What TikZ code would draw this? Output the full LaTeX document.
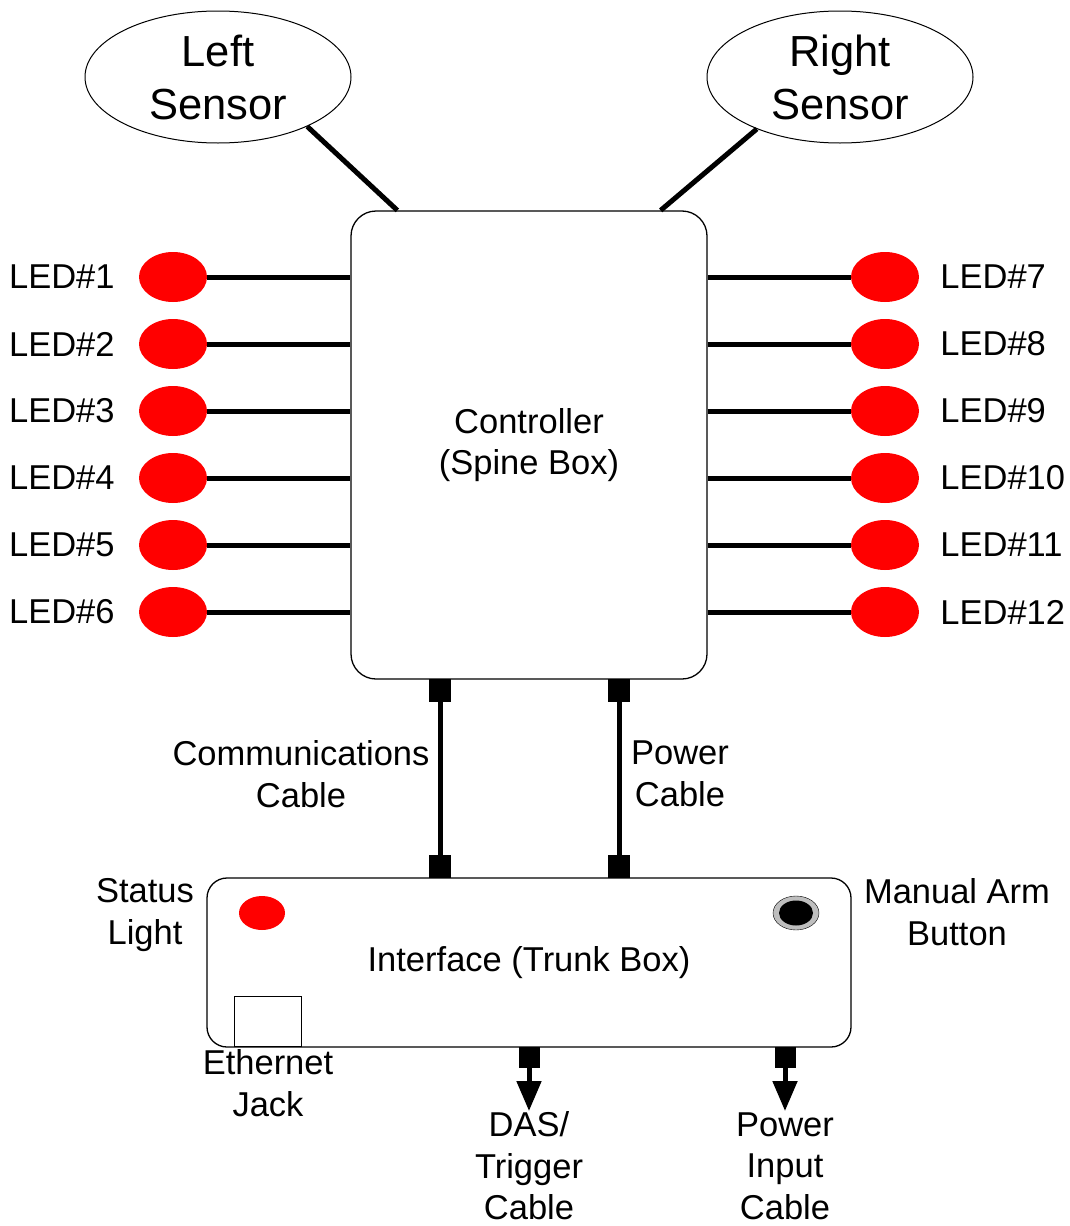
\documentclass[tikz,border=0pt]{standalone}
\usepackage{fontspec}
\setmainfont{Liberation Sans}
\usetikzlibrary{arrows.meta, positioning, shapes.geometric}
\definecolor{cLed}{RGB}{255,0,0}
\definecolor{cRing}{RGB}{190,190,190}

\begin{document}
\begin{tikzpicture}[x=1pt, y=-1pt,
      txt/.style={font=\fontsize{34.5}{41.5}\selectfont, align=center, inner sep=0pt},
      sensor/.style={ellipse, draw, line width=1pt, minimum width=266pt, minimum height=132pt,
                     align=center, inner sep=0pt, font=\fontsize{43.5}{53}\selectfont},
      box/.style={draw, line width=1.3pt, inner sep=0pt, txt},
      led/.style={ellipse, fill=cLed, minimum width=68pt, minimum height=50pt, inner sep=0pt},
      wire/.style={line width=5pt},
      plug/.style={fill=black, minimum width=22pt, minimum height=23pt, inner sep=0pt},
      >={Triangle[length=30pt, width=24pt]}]
    \useasboundingbox (0,0) rectangle (1070,1226);

    % sensors
    \node[sensor] (lsens) at (218,77) {Left\\Sensor};
    \node[sensor] (rsens) at (840,77) {Right\\Sensor};

    % controller
    \node[box, rounded corners=25pt, minimum width=356pt, minimum height=468pt] (ctrl) at (529,445)
         {Controller\\(Spine Box)};
    \draw[wire] (lsens.-29) -- ([xshift=47pt]ctrl.north west);
    \draw[wire] (rsens.-148) -- ([xshift=-47pt]ctrl.north east);

    % left LEDs
    \node[led] (led1) at (173,277) {};
    \node[led] (led2) at (173,344) {};
    \node[led] (led3) at (173,411) {};
    \node[led] (led4) at (173,478) {};
    \node[led] (led5) at (173,545) {};
    \node[led] (led6) at (173,612) {};
    \node[txt, left=24pt of led1] {LED\#1};
    \node[txt, left=24pt of led2] {LED\#2};
    \node[txt, left=24pt of led3] {LED\#3};
    \node[txt, left=24pt of led4] {LED\#4};
    \node[txt, left=24pt of led5] {LED\#5};
    \node[txt, left=24pt of led6] {LED\#6};
    \draw[wire] (led1.east) -- (led1 -| ctrl.west);
    \draw[wire] (led2.east) -- (led2 -| ctrl.west);
    \draw[wire] (led3.east) -- (led3 -| ctrl.west);
    \draw[wire] (led4.east) -- (led4 -| ctrl.west);
    \draw[wire] (led5.east) -- (led5 -| ctrl.west);
    \draw[wire] (led6.east) -- (led6 -| ctrl.west);

    % right LEDs
    \node[led] (led7)  at (885,277) {};
    \node[led] (led8)  at (885,344) {};
    \node[led] (led9)  at (885,411) {};
    \node[led] (led10) at (885,478) {};
    \node[led] (led11) at (885,545) {};
    \node[led] (led12) at (885,612) {};
    \node[txt, anchor=west, right=21pt of led7]  {LED\#7};
    \node[txt, anchor=west, right=21pt of led8]  {LED\#8};
    \node[txt, anchor=west, right=21pt of led9]  {LED\#9};
    \node[txt, anchor=west, right=21pt of led10] {LED\#10};
    \node[txt, anchor=west, right=21pt of led11] {LED\#11};
    \node[txt, anchor=west, right=21pt of led12] {LED\#12};
    \draw[wire] (ctrl.east |- led7)  -- (led7.west);
    \draw[wire] (ctrl.east |- led8)  -- (led8.west);
    \draw[wire] (ctrl.east |- led9)  -- (led9.west);
    \draw[wire] (ctrl.east |- led10) -- (led10.west);
    \draw[wire] (ctrl.east |- led11) -- (led11.west);
    \draw[wire] (ctrl.east |- led12) -- (led12.west);

    % trunk box
    \node[box, rounded corners=20pt, minimum width=644pt, minimum height=169pt] (trunk) at (529,962.5)
         {Interface (Trunk Box)};
    \node[ellipse, fill=cLed, minimum width=46pt, minimum height=34pt, inner sep=0pt] (status) at (262,913) {};
    \node[ellipse, draw, fill=cRing, minimum width=46pt, minimum height=34pt, inner sep=0pt] (button) at (796,913) {};
    \node[ellipse, fill=black, minimum width=34pt, minimum height=25pt, inner sep=0pt] (knob) at (button) {};
    \node[draw, line width=0.8pt, minimum width=67pt, minimum height=50pt, inner sep=0pt,
          anchor=south] (jack) at (267.5,1047) {};
    \node[txt] (statuslbl) at (145,915) {Status\\Light};
    \node[txt] (buttonlbl) at (957,912) {Manual Arm\\Button};
    \node[txt] (jacklbl) at (268,1083) {Ethernet\\Jack};

    % cables
    \node[plug] (ctop) at (440,690.5) {};
    \node[plug] (cbot) at (440,866.5) {};
    \node[plug] (ptop) at (619,690.5) {};
    \node[plug] (pbot) at (619,866.5) {};
    \draw[wire] (ctop) -- (cbot);
    \draw[wire] (ptop) -- (pbot);
    \node[txt] (commlbl) at (301,774) {Communications\\Cable};
    \node[txt] (powlbl) at (680,774) {Power\\Cable};

    % outputs
    \node[plug, minimum width=21pt, minimum height=21pt] (das) at (529,1057.5) {};
    \node[plug, minimum width=21pt, minimum height=21pt] (pin) at (785,1057.5) {};
    \coordinate (dasend) at (529,1111);
    \coordinate (pinend) at (785,1111);
    \draw[wire, ->] (das) -- (dasend);
    \draw[wire, ->] (pin) -- (pinend);
    \node[txt] (daslbl) at (529,1166) {DAS/\\Trigger\\Cable};
    \node[txt] (pinlbl) at (785,1166) {Power\\Input\\Cable};
  \end{tikzpicture}
\end{document}
